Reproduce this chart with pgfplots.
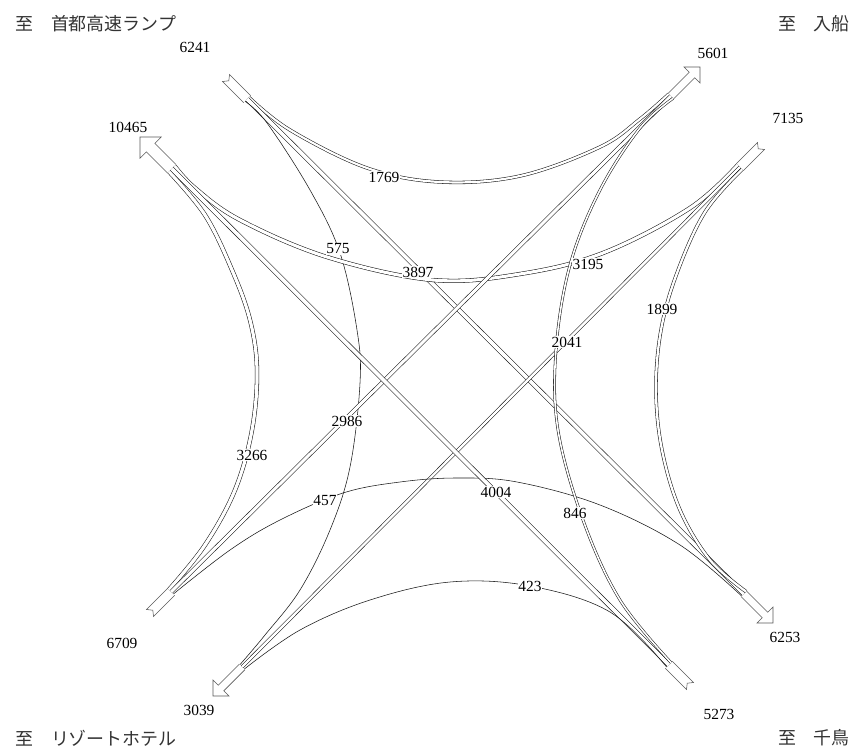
\documentclass[border=0pt]{standalone}
\usepackage{fontspec}
\setmainfont{Liberation Serif}
\newfontfamily\jp{Noto Sans CJK JP}
\usepackage{pgfplots}
\pgfplotsset{compat=1.18}

\pgfplotsset{
  flow/.style={black!90, line width=0.55bp, smooth, tension=0.6, mark=none},
  arm/.style={black!65, line width=0.55bp, sharp plot, mark=none},
}
\tikzset{
  lbl/.style={fill=white, inner sep=0.6bp, font=\fontsize{15.5}{15.5}\selectfont},
  num/.style={inner sep=0pt, font=\fontsize{15.5}{15.5}\selectfont},
  jpl/.style={inner sep=0pt, text=black!80, font=\jp\fontsize{18}{18}\selectfont},
}

\begin{document}
\begin{tikzpicture}
\begin{axis}[
    at={(0,0)}, anchor=south west,
    scale only axis,
    width=857bp, height=751bp,
    xmin=0, xmax=857, ymin=0, ymax=751,
    y dir=reverse,
    hide axis,
    clip=false
]

% arms: inflow tails and outflow arrows
\addplot[arm] coordinates {(250.7,95.7) (229.5,74.5) (228.8,80.8) (222.5,81.5) (243.7,102.7)};
\addplot[arm] coordinates {(176,164.6) (154.8,143.4) (161.2,137) (140,137) (140,158.2) (146.4,151.8) (167.6,173)};
\addplot[arm] coordinates {(668,93.4) (689.2,72.2) (684,67) (700,67) (700,83) (694.8,77.8) (673.6,99)};
\addplot[arm] coordinates {(736.3,163.7) (757.5,142.5) (758.2,148.8) (764.5,149.5) (743.3,170.7)};
\addplot[arm] coordinates {(746.6,591) (767.8,612.2) (773,607) (773,623) (757,623) (762.2,617.8) (741,596.6)};
\addplot[arm] coordinates {(672.3,661.3) (693.5,682.5) (687.2,683.2) (686.5,689.5) (665.3,668.3)};
\addplot[arm] coordinates {(167.7,588.3) (146.5,609.5) (152.8,610.2) (153.5,616.5) (174.7,595.3)};
\addplot[arm] coordinates {(239.4,664) (218.2,685.2) (213,680) (213,696) (229,696) (223.8,690.8) (245,669.6)};

% from 首都高速ランプ (6241)
\addplot[flow, double=white, double distance=2.2bp] coordinates {
  (249,97.4) (290,130) (367,168) (440,182) (520,176) (600,147) (640,119) (668.7,94.1)};
\addplot[flow, double=white, double distance=3.6bp] coordinates {
  (247.2,99.2) (743.8,593.8)};
\addplot[flow] coordinates {
  (245,101.3) (267,123) (310,190) (340,253) (357,330) (360,383) (350,467) (330,530) (300,590) (265,635) (240,664.6)};

% from 入船 (7135)
\addplot[flow, double=white, double distance=3.1bp] coordinates {
  (737.7,165.1) (690,208) (603,253) (520,274) (433,280) (327,257) (240,220) (195,188) (174.6,166)};
\addplot[flow, double=white, double distance=2.4bp] coordinates {
  (739.8,167.2) (242.2,666.8)};
\addplot[flow, double=white, double distance=2.3bp] coordinates {
  (742,169.4) (705,212) (677,273) (661,330) (656,390) (662,450) (680,510) (710,560) (746,591.6)};

% from リゾートホテル (6709)
\addplot[flow, double=white, double distance=3.2bp] coordinates {
  (169,589.6) (205,545) (235,490) (252,430) (257,370) (250,320) (232,270) (205,215) (169,171.6)};
\addplot[flow, double=white, double distance=3bp] coordinates {
  (171.2,591.8) (670.8,96.2)};
\addplot[flow] coordinates {
  (173.4,594) (230,550) (280,520) (343,493) (400,482) (457,478) (517,482) (600,505) (680,545) (741.6,596)};

% from 千鳥 (5273)
\addplot[flow, double=white, double distance=3.7bp] coordinates {
  (668.8,664.8) (171.8,168.8)};
\addplot[flow, double=white, double distance=1.6bp] coordinates {
  (671,662.6) (620,600) (583,520) (558,430) (556,350) (570,265) (600,190) (640,128) (673,98.4)};
\addplot[flow] coordinates {
  (666.6,667) (610,612) (530,586) (450,582) (370,600) (300,630) (244.4,669)};

% flow labels
\node[lbl] at (axis cs:384,177) {1769};
\node[lbl] at (axis cs:418,272) {3897};
\node[lbl] at (axis cs:338,249) {575};
\node[lbl] at (axis cs:588,264) {3195};
\node[lbl] at (axis cs:567,342) {2041};
\node[lbl] at (axis cs:662,309) {1899};
\node[lbl] at (axis cs:347,421) {2986};
\node[lbl] at (axis cs:252,455) {3266};
\node[lbl] at (axis cs:325,500) {457};
\node[lbl] at (axis cs:496,492) {4004};
\node[lbl] at (axis cs:575,513) {846};
\node[lbl] at (axis cs:530,586) {423};

% arm totals
\node[num] at (axis cs:195,47) {6241};
\node[num] at (axis cs:128,127) {10465};
\node[num] at (axis cs:713,53) {5601};
\node[num] at (axis cs:788,118) {7135};
\node[num] at (axis cs:122,643) {6709};
\node[num] at (axis cs:199,710) {3039};
\node[num] at (axis cs:785,637) {6253};
\node[num] at (axis cs:719,714) {5273};

% directions
\node[jpl, anchor=west] at (axis cs:15,24) {至　首都高速ランプ};
\node[jpl, anchor=east] at (axis cs:850,24) {至　入船};
\node[jpl, anchor=west] at (axis cs:15,738) {至　リゾートホテル};
\node[jpl, anchor=east] at (axis cs:850,738) {至　千鳥};

\end{axis}
\pgfresetboundingbox
\path[use as bounding box] (0,0) rectangle (857bp,751bp);
\end{tikzpicture}
\end{document}
